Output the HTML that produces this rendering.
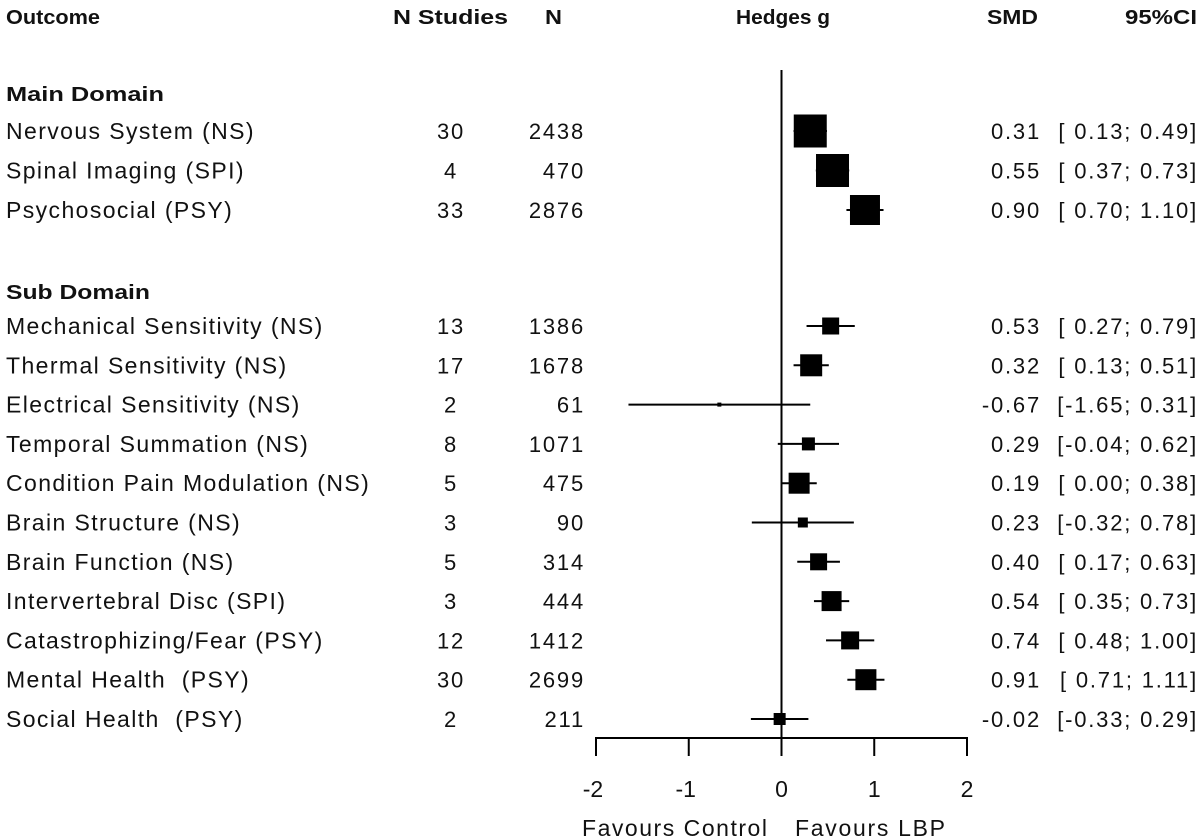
<!DOCTYPE html>
<html><head><meta charset="utf-8"><style>
html,body{margin:0;padding:0;background:#fff;}
svg{display:block;font-family:"Liberation Sans",Arial,sans-serif;}
.t{font-size:22px;fill:#111;white-space:pre;}
.lab{font-size:23px;letter-spacing:1.4px;}
.num{letter-spacing:1.8px;}
.h{font-size:20px;font-weight:bold;fill:#111;font-family:"Liberation Sans Narrow","Liberation Sans",sans-serif;}
</style></head><body>
<svg id="chart" width="1200" height="840" viewBox="0 0 1200 840" xmlns="http://www.w3.org/2000/svg">
<g>
<text class="h" x="6" y="24" textLength="94" lengthAdjust="spacingAndGlyphs">Outcome</text>
<text class="h" x="393" y="24" textLength="115" lengthAdjust="spacingAndGlyphs">N Studies</text>
<text class="h" x="545" y="24" textLength="17" lengthAdjust="spacingAndGlyphs">N</text>
<text class="h" x="736" y="24" textLength="94" lengthAdjust="spacingAndGlyphs">Hedges g</text>
<text class="h" x="987" y="24" textLength="51" lengthAdjust="spacingAndGlyphs">SMD</text>
<text class="h" x="1125" y="24" textLength="72" lengthAdjust="spacingAndGlyphs">95%CI</text>
</g>
<text class="h" x="6" y="101" textLength="158" lengthAdjust="spacingAndGlyphs">Main Domain</text>
<text class="h" x="6" y="299" textLength="144" lengthAdjust="spacingAndGlyphs">Sub Domain</text>
<g id="rows"></g>
<g id="axis"></g>
<text class="t" x="582" y="836" textLength="185" lengthAdjust="spacing" style="font-size:23px">Favours Control</text>
<text class="t" x="795" y="836" textLength="150" lengthAdjust="spacing" style="font-size:23px">Favours LBP</text>
</svg>
<script>
const outcomes = ["Nervous System (NS)","Spinal Imaging (SPI)","Psychosocial (PSY)","Mechanical Sensitivity (NS)","Thermal Sensitivity (NS)","Electrical Sensitivity (NS)","Temporal Summation (NS)","Condition Pain Modulation (NS)","Brain Structure (NS)","Brain Function (NS)","Intervertebral Disc (SPI)","Catastrophizing/Fear (PSY)","Mental Health  (PSY)","Social Health  (PSY)"];
const nStudies = [30,4,33,13,17,2,8,5,3,5,3,12,30,2];
const nTotal = [2438,470,2876,1386,1678,61,1071,475,90,314,444,1412,2699,211];
const smd = [0.31,0.55,0.90,0.53,0.32,-0.67,0.29,0.19,0.23,0.40,0.54,0.74,0.91,-0.02];
const ciLow = [0.13,0.37,0.70,0.27,0.13,-1.65,-0.04,0.00,-0.32,0.17,0.35,0.48,0.71,-0.33];
const ciHigh = [0.49,0.73,1.10,0.79,0.51,0.31,0.62,0.38,0.78,0.63,0.73,1.00,1.11,0.29];
const weights = [33,33,30,17,22,4,13,21,10,17,20,18,21,12];
const xTicks = [-2,-1,0,1,2];

const NS="http://www.w3.org/2000/svg";
const x0=781.5, k=92.75;
function xs(v){return x0+v*k;}
function rowY(i){return i<3 ? 131+i*39.5 : 326+(i-3)*39.3;}
function fmt(v){return v.toFixed(2);}
function fmtCI(v){return v<0?v.toFixed(2):" "+v.toFixed(2);}
function mk(tag,attrs,parent){const e=document.createElementNS(NS,tag);for(const a in attrs)e.setAttribute(a,attrs[a]);parent.appendChild(e);return e;}
const rows=document.getElementById('rows');
const axis=document.getElementById('axis');

const zl=mk('line',{x1:xs(0),x2:xs(0),y1:70,y2:738,stroke:'#000','stroke-width':2},axis);


const al=mk('line',{x1:xs(-2),x2:xs(2),y1:738,y2:738,stroke:'#000','stroke-width':2},axis);


xTicks.forEach(v=>{
  const t=mk('line',{x1:xs(v),x2:xs(v),y1:737,y2:756,stroke:'#000','stroke-width':2},axis);
  
  
  const l=mk('text',{x:xs(v)-(v<0?3:0),y:797,'text-anchor':'middle',class:'t',style:'font-size:23px'},axis);
  l.textContent=String(v);
  
  
});

outcomes.forEach((name,i)=>{
  const y=rowY(i);
  const g=mk('g',{},rows);
  
  
  const lab=mk('text',{x:6,y:y+8,class:'t lab'},g); lab.textContent=name;
  
  
  const ns=mk('text',{x:451,y:y+8,'text-anchor':'middle',class:'t num'},g); ns.textContent=nStudies[i];
  
  
  const nn=mk('text',{x:585,y:y+8,'text-anchor':'end',class:'t num'},g); nn.textContent=nTotal[i];
  
  
  const ci=mk('line',{x1:xs(ciLow[i]),x2:xs(ciHigh[i]),y1:y,y2:y,stroke:'#000','stroke-width':2},g);
  
  
  const s=weights[i];
  const sq=mk('rect',{x:xs(smd[i])-s/2,y:y-s/2,width:s,height:s,fill:'#000'},g);
  
  
  const sv=mk('text',{x:1041,y:y+8,'text-anchor':'end',class:'t num'},g); sv.textContent=fmt(smd[i]);
  
  
  const cv=mk('text',{x:1198,y:y+8,'text-anchor':'end',class:'t num'},g);
  cv.textContent='['+fmtCI(ciLow[i])+'; '+fmt(ciHigh[i])+']';
  
  
});
</script>
</body></html>
